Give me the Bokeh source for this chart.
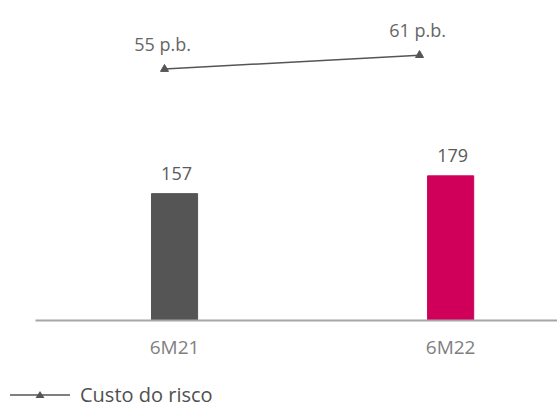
from bokeh.plotting import figure
from bokeh.layouts import column
from bokeh.models import (ColumnDataSource, Range1d, LabelSet, FixedTicker, Div)
from bokeh.core.properties import value
from bokeh.embed import file_html
from bokeh.resources import INLINE

categories = ["6M21", "6M22"]
values = [157, 179]
bar_colors = ["#555555", "#d0005a"]
risk = [55, 61]
risk_labels = ["55 p.b.", "61 p.b."]
legend_label = "Custo do risco"

FONT = "Open Sans"
idx = list(range(len(categories)))

p = figure(width=557, height=362, x_range=Range1d(-0.5036, 1.387),
           y_range=Range1d(0, 396), output_backend="svg", toolbar_location=None,
           min_border_left=35, min_border_right=0, min_border_top=0, min_border_bottom=38)
p.extra_y_ranges = {"risk": Range1d(-53.4, 84.57)}
p.extra_x_ranges = {"risk": Range1d(-0.5059, 1.541)}

src = ColumnDataSource(dict(x=idx, top=values, color=bar_colors,
                            lab=[str(v) for v in values]))
p.vbar(x="x", top="top", width=0.167, color="color", source=src)
p.add_layout(LabelSet(x="x", y="top", text="lab", source=src, text_align="center",
                      y_offset=14, x_offset=2, text_font=value(FONT), text_font_size="18px",
                      text_color="#5a5a5a"))

rsrc = ColumnDataSource(dict(x=idx, y=risk, lab=risk_labels))
p.line(x="x", y="y", source=rsrc, x_range_name="risk", y_range_name="risk",
       line_color="#555555", line_width=1.5)
p.scatter(x="x", y="y", source=rsrc, x_range_name="risk", y_range_name="risk",
          marker="triangle", size=8, color="#555555")
p.add_layout(LabelSet(x="x", y="y", text="lab", source=rsrc, x_range_name="risk",
                      y_range_name="risk", text_align="center", y_offset=13, x_offset=-2,
                      text_font=value(FONT), text_font_size="18px", text_color="#666666"))

p.xaxis.ticker = FixedTicker(ticks=idx)
p.xaxis.major_label_overrides = {i: c for i, c in zip(idx, categories)}
p.xaxis.axis_line_color = "#a6a6a6"
p.xaxis.axis_line_width = 2
p.xaxis.major_tick_line_color = None
p.xaxis.minor_tick_line_color = None
p.xaxis.major_label_text_font = FONT
p.xaxis.major_label_text_font_size = "19px"
p.xaxis.major_label_text_color = "#808080"
p.xaxis.major_label_standoff = 7
p.yaxis.visible = False
p.xgrid.visible = False
p.ygrid.visible = False
p.outline_line_color = None

# legend strip (HTML, real text)
legend_html = (
    '<div style="position:relative;width:557px;height:46px;">'
    '<svg style="position:absolute;left:0;top:0" width="80" height="46">'
    '<line x1="10" y1="33" x2="70" y2="33" stroke="#555555" stroke-width="1.5"/>'
    '<polygon points="35.5,36 44.5,36 40,29" fill="#555555"/></svg>'
    '<span style="position:absolute;left:80px;top:20px;font-family:\'Open Sans\';'
    'font-size:20px;line-height:26px;color:#505050;white-space:nowrap">'
    + legend_label + '</span></div>'
)
lg = Div(text=legend_html, width=557, height=46, margin=0)

open("out.html", "w").write(file_html(column(p, lg), INLINE))
